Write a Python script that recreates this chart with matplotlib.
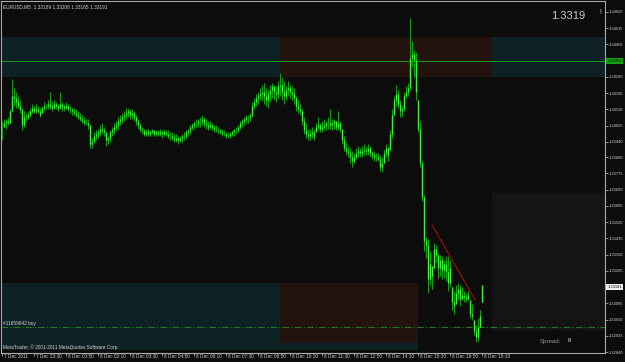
import matplotlib.pyplot as plt
import numpy as np

# EURUSD M5 bars, values in pips above 1.3300
base = 1.3300
hi = [105, 106, 106, 107, 111, 127, 122, 120, 118, 116,
      112, 110, 109, 110, 112, 114, 113, 114, 113, 112,
      113, 115, 114, 116, 120, 115, 116, 115, 114, 120,
      115, 114, 115, 114, 113, 112, 112, 111, 110, 109,
      108, 107, 106, 106, 103, 96, 99, 100, 101, 103,
      104, 102, 99, 97, 100, 102, 104, 105, 107, 108,
      109, 110, 112, 112, 111, 111, 110, 108, 106, 104,
      102, 101, 101, 101, 100, 101, 100, 100, 100, 101,
      100, 101, 100, 100, 99, 99, 98, 98, 97, 97,
      98, 99, 100, 101, 103, 104, 105, 106, 106, 107,
      108, 107, 106, 105, 105, 104, 103, 103, 102, 101,
      101, 100, 99, 99, 99, 100, 101, 102, 103, 105,
      106, 107, 108, 108, 109, 115, 117, 119, 120, 122,
      124, 125, 122, 121, 124, 125, 124, 123, 126, 130,
      128, 126, 123, 126, 124, 123, 122, 118, 116, 114,
      111, 107, 104, 101, 101, 102, 101, 104, 107, 104,
      105, 106, 105, 107, 111, 106, 106, 105, 110, 105,
      101, 97, 94, 92, 91, 89, 88, 91, 92, 91,
      92, 93, 92, 93, 92, 89, 89, 88, 88, 87,
      86, 90, 93, 92, 100, 111, 118, 124, 121, 116,
      113, 120, 123, 125, 159, 147, 142, 141, 116, 105,
      84, 66, 44, 43, 37, 29, 41, 40, 36, 35,
      34, 32, 34, 34, 32, 18, 16, 19, 20, 19,
      18, 16, 15, 16, 11, 9, 1, -2, 2, 6,
      19]
lo = [95, 102, 101, 103, 104, 110, 113, 112, 111, 109,
      100, 102, 105, 106, 107, 109, 109, 109, 109, 107,
      109, 110, 111, 111, 111, 110, 111, 111, 110, 111,
      110, 110, 111, 110, 109, 108, 108, 107, 106, 105,
      104, 103, 103, 101, 91, 91, 94, 95, 96, 97,
      98, 97, 92, 93, 94, 97, 98, 100, 101, 103,
      104, 105, 106, 107, 106, 106, 105, 103, 101, 99,
      98, 97, 97, 97, 97, 98, 97, 97, 97, 97,
      96, 97, 97, 96, 95, 95, 94, 94, 93, 94,
      94, 95, 96, 97, 98, 100, 101, 102, 102, 102,
      103, 102, 101, 100, 101, 100, 99, 99, 98, 98,
      97, 97, 96, 96, 96, 97, 97, 98, 99, 101,
      102, 103, 104, 104, 105, 107, 111, 113, 114, 116,
      116, 114, 113, 112, 115, 117, 116, 115, 117, 118,
      116, 114, 116, 118, 117, 116, 114, 110, 109, 108,
      103, 98, 96, 95, 95, 96, 95, 99, 100, 99,
      99, 100, 100, 101, 101, 100, 101, 100, 100, 99,
      93, 89, 87, 86, 83, 81, 83, 85, 86, 86,
      86, 87, 87, 87, 86, 85, 84, 84, 84, 79,
      78, 83, 86, 84, 90, 96, 108, 113, 112, 107,
      107, 110, 117, 118, 121, 133, 128, 116, 99, 81,
      63, 37, 33, 15, 19, 17, 28, 31, 23, 24,
      22, 23, 21, 16, 18, 6, 4, 9, 11, 8,
      11, 10, 10, 11, 2, 1, -7, -11, -10, -3,
      10]
cl = [100, 104, 105, 104, 110, 118, 117, 115, 113, 111,
      103, 107, 107, 108, 110, 112, 110, 111, 110, 108,
      112, 113, 113, 114, 113, 112, 114, 113, 112, 114,
      113, 112, 113, 111, 111, 110, 109, 108, 107, 106,
      105, 104, 104, 103, 93, 94, 97, 98, 99, 101,
      100, 99, 95, 96, 99, 100, 102, 103, 105, 106,
      107, 108, 109, 110, 108, 109, 107, 105, 103, 101,
      100, 98, 99, 98, 99, 100, 98, 99, 98, 99,
      98, 99, 98, 97, 97, 96, 95, 96, 95, 96,
      97, 97, 99, 100, 102, 103, 104, 104, 105, 105,
      106, 104, 103, 102, 103, 102, 101, 100, 100, 99,
      98, 98, 97, 97, 98, 99, 100, 100, 102, 104,
      105, 106, 107, 107, 108, 113, 115, 117, 118, 119,
      120, 118, 116, 119, 121, 123, 120, 119, 123, 124,
      120, 118, 121, 122, 120, 119, 117, 113, 111, 110,
      105, 100, 98, 97, 98, 99, 97, 102, 103, 101,
      102, 103, 104, 104, 103, 104, 105, 102, 104, 101,
      95, 91, 89, 88, 86, 84, 86, 88, 89, 88,
      89, 90, 89, 91, 88, 87, 86, 86, 85, 81,
      83, 88, 91, 87, 98, 108, 116, 119, 114, 110,
      111, 118, 120, 122, 138, 140, 137, 120, 101, 83,
      65, 42, 40, 22, 30, 24, 38, 35, 28, 32,
      27, 30, 26, 20, 28, 10, 8, 15, 17, 12,
      14, 13, 12, 14, 4, 3, -5, -8, -3, 3,
      19]

time_labels = ["7 Dec 2011", "7 Dec 23:30", "8 Dec 00:50", "8 Dec 02:10",
               "8 Dec 03:30", "8 Dec 04:50", "8 Dec 06:10", "8 Dec 07:30",
               "8 Dec 08:50", "8 Dec 10:10", "8 Dec 11:30", "8 Dec 12:50",
               "8 Dec 14:10", "8 Dec 15:30", "8 Dec 16:50", "8 Dec 18:10"]
price_ticks = [1.34620, 1.34535, 1.34450, 1.34365, 1.34280, 1.34195, 1.34110,
               1.34025, 1.33940, 1.33860, 1.33775, 1.33690, 1.33605, 1.33520,
               1.33435, 1.33350, 1.33265, 1.33180, 1.33095, 1.33010, 1.32925,
               1.32840]
level_price = 1.34361
bid_price = 1.33181
order_price = 1.32971
trend_x = [215, 236.5]
trend_pips = [50.5, 11.3]

# zones: (bar from, bar to, price low, price high, colour)
zones = [(-0.5, 139, 1.34280, 1.34489, '#0e2225'),
         (139, 245, 1.34280, 1.34489, '#22130f'),
         (245, 302.5, 1.34280, 1.34489, '#0e2225'),
         (-0.5, 208, 1.32851, 1.33201, '#0e2225'),
         (139, 208, 1.32887, 1.33201, '#22130f'),
         (245, 302.5, 1.32955, 1.33672, '#141414')]

W, H = 625, 362
bg = '#0c0c0c'
fig = plt.figure(figsize=(W / 100, H / 100), dpi=100, facecolor=bg)
ax = fig.add_axes([1 / W, 9 / H, 604 / W, 352 / H], facecolor=bg)

k = (1.34620 - 1.32840) / 340
ax.set_ylim(1.32840 - 1 * k, 1.34620 + 11 * k)
ax.set_xlim(-0.5, 301.5)

for x0, x1, y0, y1, col in zones:
    ax.fill_between([x0, x1], y0, y1, color=col, lw=0, zorder=0)

x = np.arange(len(hi))
h = base + np.array(hi) * 1e-4
l = base + np.array(lo) * 1e-4
c = base + np.array(cl) * 1e-4
o = np.r_[c[0], c[:-1]]
ax.vlines(x, l, h, color='#179a17', lw=0.75, zorder=3)
ax.vlines(x, np.maximum(np.minimum(o, c), l), np.minimum(np.maximum(o, c), h),
          color='#3cf03c', lw=1.0, zorder=4)

ax.plot(trend_x, base + np.array(trend_pips) * 1e-4, color='#b01010', lw=0.7, zorder=5)
ax.axhline(level_price, color='#1a9a1a', lw=0.7, zorder=2)
ax.axhline(order_price, color='#1e7a1e', lw=0.8, ls=(0, (6, 2, 1, 2)), zorder=2)

# axes styling
for s in ax.spines.values():
    s.set_color('#a8a8a8')
    s.set_linewidth(0.8)
ax.yaxis.tick_right()
ax.set_yticks(price_ticks)
ax.set_yticklabels([f"{p:.5f}" for p in price_ticks], fontsize=2.9,
                   color='#d0d0d0', family='Liberation Sans')
ax.tick_params(axis='y', length=2, width=0.6, color='#a8a8a8', pad=0.6)
ax.set_xticks(np.arange(len(time_labels)) * 16)
ax.set_xticklabels([])
ax.tick_params(axis='x', length=2.5, width=0.6, color='#a8a8a8')
for i, t in enumerate(time_labels):
    ax.text(i * 16 + 1.2, -0.004, t, transform=ax.get_xaxis_transform(),
            fontsize=3.4, color='#d0d0d0', family='Liberation Sans',
            ha='left', va='top')

def px(xp, yp):
    return xp / W, 1 - yp / H

fig.text(*px(3, 7), "EURUSD,M5  1.33189 1.33208 1.33165 1.33191", fontsize=3.4,
         color='#d0d0d0', family='Liberation Sans', va='center')
fig.text(*px(551, 16), "1.3319", fontsize=8, color='#c8c8c8',
         family='Liberation Sans', va='center')
fig.text(*px(599, 13), "!", fontsize=5, color='#d0d0d0',
         family='Liberation Sans', va='center')
fig.text(*px(540, 341), "Spread:", fontsize=4.4, color='#9a9a9a',
         family='Liberation Sans', va='center')
fig.text(*px(568, 341), "6", fontsize=4.4, color='#e0e0e0',
         family='Liberation Sans', va='center')
fig.text(*px(3, 324), "#11659842 buy", fontsize=3.4, color='#d0d0d0',
         family='Liberation Sans', va='center')
fig.text(*px(3, 347), "MetaTrader, \u00a9 2001-2011 MetaQuotes Software Corp.",
         fontsize=3.4, color='#d0d0d0', family='Liberation Sans', va='center')

# price boxes on the right scale
ax.text(1.004, level_price, f"{level_price:.5f}", transform=ax.get_yaxis_transform(),
        fontsize=2.9, color='#0c0c0c', family='Liberation Sans', va='center', ha='left',
        bbox=dict(boxstyle='square,pad=0.25', fc='#12a012', ec='none'), zorder=10)
ax.text(1.004, bid_price, f"{bid_price:.5f}", transform=ax.get_yaxis_transform(),
        fontsize=2.9, color='#0c0c0c', family='Liberation Sans', va='center', ha='left',
        bbox=dict(boxstyle='square,pad=0.25', fc='#f0f0f0', ec='none'), zorder=10)

fig.savefig('out.png', dpi=100, facecolor=bg)
